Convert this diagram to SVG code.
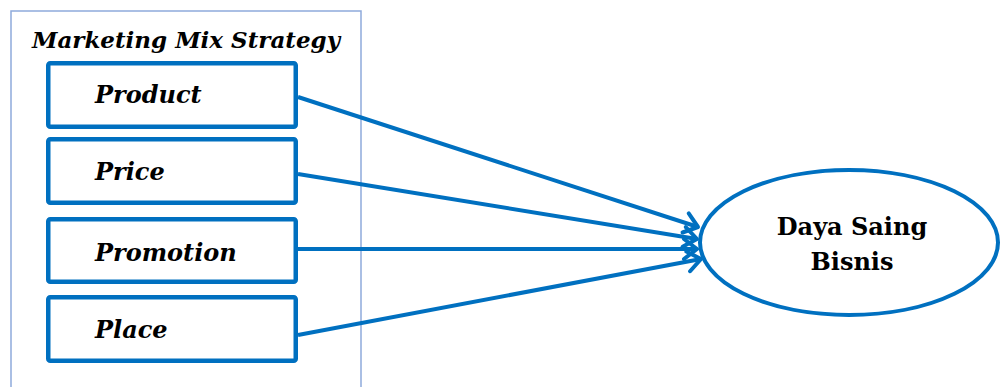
<svg xmlns="http://www.w3.org/2000/svg" width="1001" height="387" viewBox="0 0 1001 387">
<style>
.frame{fill:none;stroke:#8EAADB;stroke-width:1.5}
.box{fill:#fff;stroke:#0070C0;stroke-width:4.5}
.lbl{font-family:"DejaVu Serif","Liberation Serif",serif;font-style:italic;font-weight:bold;font-size:24px;fill:#000}
.title{font-family:"DejaVu Serif","Liberation Serif",serif;font-style:italic;font-weight:bold;font-size:23px;fill:#000}
.ell{fill:#fff;stroke:#0070C0;stroke-width:4}
.elt{font-family:"DejaVu Serif","Liberation Serif",serif;font-weight:bold;font-size:24px;fill:#000}
.con{stroke:#0070C0;stroke-width:4;fill:none;marker-end:url(#arr)}
</style>
<defs>
<marker id="arr" markerUnits="userSpaceOnUse" markerWidth="30" markerHeight="30" viewBox="-16 -15 20 30" refX="0" refY="0" orient="auto">
<path d="M-13,-10 L0,0 L-13,10" fill="none" stroke="#0070C0" stroke-width="4" stroke-linecap="round" stroke-linejoin="round"/>
</marker>
</defs>
<g id="group-frame">
<rect class="frame" x="11" y="11" width="350" height="390"/>
<text class="title" x="186" y="48" text-anchor="middle">Marketing Mix Strategy</text>
</g>
<g id="connectors">
<line class="con" x1="298" y1="97" x2="698" y2="227"/>
<line class="con" x1="298" y1="174" x2="697" y2="239"/>
<line class="con" x1="298" y1="249" x2="697" y2="249"/>
<line class="con" x1="298" y1="335" x2="701" y2="259"/>
</g>
<g id="product">
<rect class="box" x="48.25" y="63.25" width="247.5" height="63.5" rx="2"/>
<text class="lbl" x="95" y="103">Product</text>
</g>
<g id="price">
<rect class="box" x="48.25" y="139.25" width="247.5" height="63.5" rx="2"/>
<text class="lbl" x="95" y="180">Price</text>
</g>
<g id="promotion">
<rect class="box" x="48.25" y="219.25" width="247.5" height="62.5" rx="2"/>
<text class="lbl" x="95" y="261">Promotion</text>
</g>
<g id="place">
<rect class="box" x="48.25" y="297.25" width="247.5" height="63.5" rx="2"/>
<text class="lbl" x="95" y="338">Place</text>
</g>
<g id="daya-saing">
<ellipse class="ell" cx="849" cy="242.5" rx="149" ry="72.5"/>
<text class="elt" x="852" y="235" text-anchor="middle">Daya Saing</text>
<text class="elt" x="852" y="270" text-anchor="middle">Bisnis</text>
</g>
</svg>
